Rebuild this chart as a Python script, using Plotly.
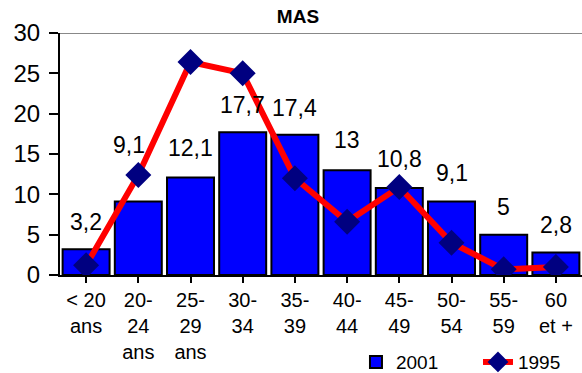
import plotly.graph_objects as go

categories = ["< 20<br>ans", "20-<br>24<br>ans", "25-<br>29<br>ans", "30-<br>34", "35-<br>39",
              "40-<br>44", "45-<br>49", "50-<br>54", "55-<br>59", "60<br>et +"]
values_2001 = [3.2, 9.1, 12.1, 17.7, 17.4, 13, 10.8, 9.1, 5, 2.8]
values_1995 = [1.2, 12.4, 26.4, 25.0, 12.0, 6.6, 10.9, 4.0, 0.7, 1.0]
label_lift = [27, 57, 29, 27, 27, 30, 29, 29, 28, 27]  # px above bar tops
label_nudge = [0, -9, 0, 0, 0, 0, 0, 0, 0, 0]          # px sideways
y_ticks = [0, 5, 10, 15, 20, 25, 30]
Y_MAX = 30

FONT = "Liberation Sans, Arial, sans-serif"
xs = list(range(len(categories)))

fig = go.Figure()
fig.add_trace(go.Bar(
    x=xs, y=values_2001, name="2001",
    marker=dict(color="#0000FF", line=dict(color="black", width=2)),
))
fig.add_trace(go.Scatter(
    x=xs, y=values_1995, name="1995", mode="lines+markers",
    line=dict(color="#FF0000", width=6),
    marker=dict(symbol="diamond", size=20, color="#000080"),
))

for x, v, lift, nudge in zip(xs, values_2001, label_lift, label_nudge):
    fig.add_annotation(
        x=x, y=v, text=f"{v:g}".replace(".", ","), showarrow=False,
        yshift=lift, xshift=nudge, font=dict(family=FONT, size=23, color="black"),
    )

fig.add_shape(type="line", xref="paper", x0=0, x1=1, y0=Y_MAX, y1=Y_MAX,
              line=dict(color="#888888", width=2), layer="below")

fig.update_layout(
    width=582, height=373,
    margin=dict(l=60, r=0, t=33, b=98, autoexpand=False),
    paper_bgcolor="white", plot_bgcolor="white",
    bargap=0.1,
    title=dict(text="<b>MAS</b>", x=0.512, xanchor="center", y=0.955, yanchor="middle",
               font=dict(family=FONT, size=19, color="black")),
    font=dict(family=FONT, color="black"),
    showlegend=True,
    legend=dict(orientation="h", x=0.567, xanchor="left", y=-0.36, yanchor="middle",
                font=dict(family=FONT, size=19), bgcolor="rgba(0,0,0,0)",
                entrywidth=77, entrywidthmode="pixels", tracegroupgap=0),
    xaxis=dict(
        range=[-0.5, 9.5], tickmode="array", tickvals=xs, ticktext=categories,
        tickson="boundaries", ticks="outside", ticklen=6, tickwidth=2, tickcolor="black",
        showline=True, linecolor="black", linewidth=2, showgrid=False, zeroline=False,
        tickfont=dict(family=FONT, size=20), automargin=False,
    ),
    yaxis=dict(
        range=[0, Y_MAX], tickmode="array", tickvals=y_ticks,
        ticks="outside", ticklen=9, tickwidth=2, tickcolor="black",
        showline=True, linecolor="black", linewidth=2, showgrid=False, zeroline=False,
        tickfont=dict(family=FONT, size=24), automargin=False, ticklabelstandoff=4,
    ),
)

fig.write_html("out.html")
